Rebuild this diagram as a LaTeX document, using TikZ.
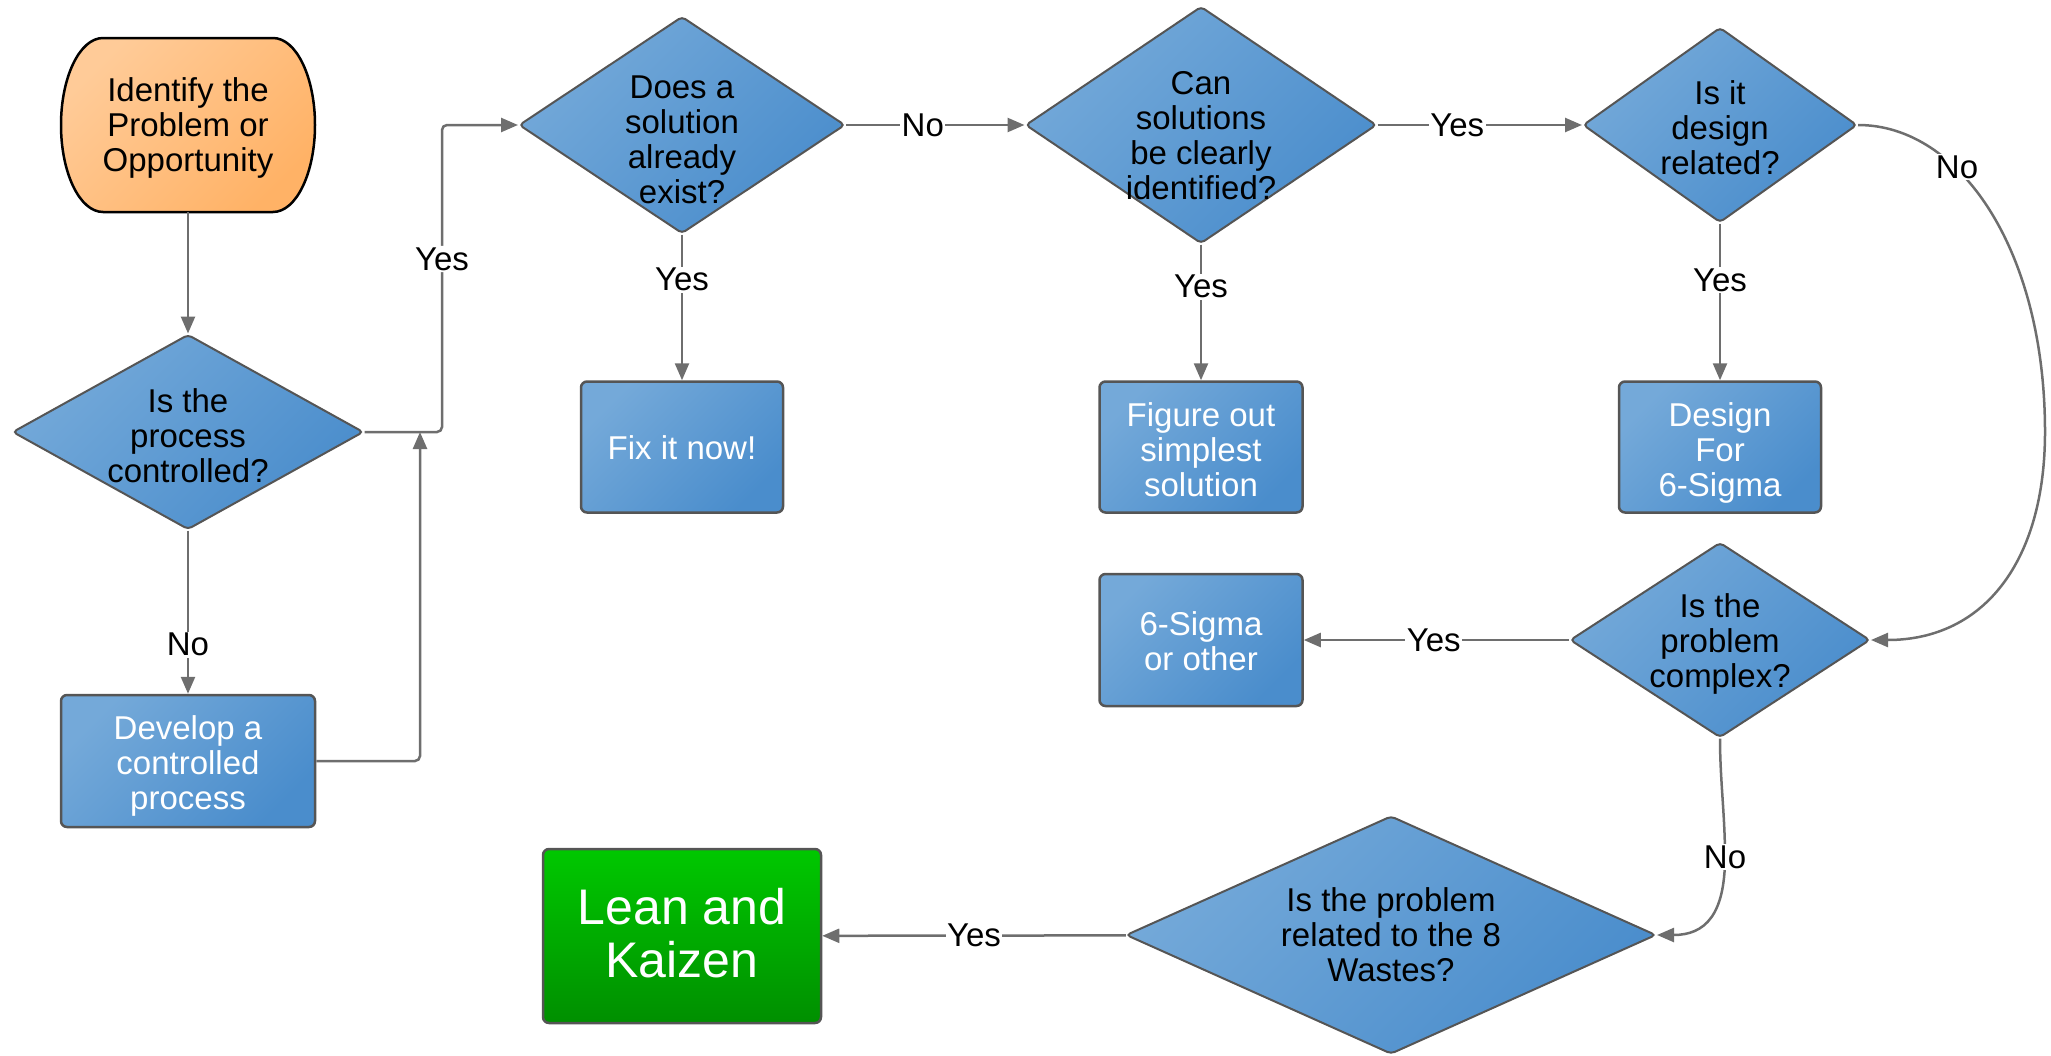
\documentclass[tikz,border=0pt]{standalone}
\usepackage{fontspec}
\setmainfont{Liberation Sans}
\usetikzlibrary{shapes.geometric,arrows.meta}
\definecolor{blueA}{HTML}{74A9D9}
\definecolor{blueB}{HTML}{4A8DCC}
\definecolor{orangeA}{HTML}{FFCB98}
\definecolor{orangeB}{HTML}{FFB266}
\definecolor{greenA}{HTML}{00C800}
\definecolor{greenB}{HTML}{008F00}
\definecolor{edge}{HTML}{555555}
\definecolor{wire}{HTML}{6E6E6E}
\begin{document}
\begin{tikzpicture}[x=1pt,y=1pt,
  every node/.style={font=\fontsize{33}{35}\selectfont},
  decision/.style={diamond, draw=edge, line width=2pt, rounded corners=4pt,
    top color=blueA, bottom color=blueB, shading angle=45, inner sep=0pt},
  qtext/.style={align=center, text=black},
  action/.style={rectangle, draw=edge, line width=2.5pt, rounded corners=6pt,
    top color=blueA, bottom color=blueB, shading angle=45, inner sep=0pt},
  atext/.style={align=center, text=white, yshift=-5pt},
  conn/.style={draw=wire, line width=2.5pt, -{Triangle[length=17pt,width=14pt]}},
  lbl/.style={fill=white, inner sep=1.5pt, text=black},
]
\useasboundingbox (0,0) rectangle (2051,-1055);

% start terminal with elliptical ends
\path[draw=black, line width=2.5pt, top color=orangeA, bottom color=orangeB, shading angle=45]
  (103,-38) -- (273,-38) arc[start angle=90, end angle=-90, x radius=42, y radius=87]
  -- (103,-212) arc[start angle=270, end angle=90, x radius=42, y radius=87] -- cycle;
\node[minimum width=254pt, minimum height=174pt, inner sep=0pt,
  label={[align=center, yshift=-3pt]center:{Identify the\\Problem or\\Opportunity}}]
  (start) at (188,-125) {};

% decisions
\node[decision, minimum width=351pt, minimum height=195pt,
  label={[qtext, yshift=-4pt]center:{Is the\\process\\controlled?}}] (d1) at (188,-432) {};
\node[decision, minimum width=326pt, minimum height=217pt,
  label={[qtext, yshift=-15pt]center:{Does a\\solution\\already\\exist?}}] (d2) at (682,-125) {};
\node[decision, minimum width=351pt, minimum height=237pt,
  label={[qtext, yshift=-11pt]center:{Can\\solutions\\be clearly\\identified?}}] (d3) at (1201,-125) {};
\node[decision, minimum width=274pt, minimum height=195pt,
  label={[qtext, yshift=-3pt]center:{Is it\\design\\related?}}] (d4) at (1720,-125) {};
\node[decision, minimum width=300pt, minimum height=195pt,
  label={[qtext, yshift=-4pt]center:{Is the\\problem\\complex?}}] (d5) at (1720,-640) {};
\node[decision, minimum width=530pt, minimum height=238pt,
  label={[qtext]center:{Is the problem\\related to the 8\\Wastes?}}] (d6) at (1391,-935) {};

% actions
\node[action, minimum width=254pt, minimum height=132pt,
  label={[atext]center:{Develop a\\controlled\\process}}] (dev) at (188,-761) {};
\node[action, minimum width=202pt, minimum height=131pt,
  label={[atext, yshift=4pt]center:{Fix it now!}}] (fix) at (682,-447) {};
\node[action, minimum width=203pt, minimum height=131pt,
  label={[atext, yshift=2pt]center:{Figure out\\simplest\\solution}}] (fig) at (1201,-447) {};
\node[action, minimum width=202pt, minimum height=131pt,
  label={[atext, yshift=-1pt]center:{Design\\For\\6-Sigma}}] (des) at (1720,-447) {};
\node[action, minimum width=203pt, minimum height=132pt,
  label={[atext, yshift=4pt]center:{6-Sigma\\or other}}] (six) at (1201,-640) {};
\node[action, top color=greenA, bottom color=greenB, minimum width=278pt,
  minimum height=174pt,
  label={[atext, yshift=8pt, font=\fontsize{50}{53}\selectfont]center:{Lean and\\Kaizen}}]
  (lean) at (682,-936) {};

% connectors
\draw[conn] (start) -- (d1);
\draw[conn] (d1) -- node[lbl, pos=0.7]{No} (dev);
\draw[conn, rounded corners=5pt] (d1.east) -| (442,-259) node[lbl]{Yes} |- (d2.west);
\coordinate (merge) at (420,-432);
\draw[conn, rounded corners=5pt] (dev.east) -| (merge);
\draw[conn] (d2) -- node[lbl, pos=0.43]{No} (d3);
\draw[conn] (d2) -- node[lbl, pos=0.31]{Yes} (fix);
\draw[conn] (d3) -- node[lbl, pos=0.39]{Yes} (d4);
\draw[conn] (d3) -- node[lbl, pos=0.31]{Yes} (fig);
\draw[conn] (d4) -- node[lbl, pos=0.36]{Yes} (des);
\draw[conn] (d5) -- node[lbl, pos=0.51]{Yes} (six);
\draw[conn] (d6) -- node[lbl, pos=0.5]{Yes} (lean);
\draw[conn] (d4.east) .. controls (1960,-125) and (2045,-250) .. (2045,-432)
  .. controls (2045,-560) and (1985,-640) .. (d5.east);
\node[lbl] at (1957,-167) {No};
\draw[conn] (d5.south) .. controls (1720,-780) and (1725,-815) .. (1725,-857)
  .. controls (1725,-915) and (1705,-935) .. (d6.east);
\node[lbl] at (1725,-857) {No};
\end{tikzpicture}
\end{document}
